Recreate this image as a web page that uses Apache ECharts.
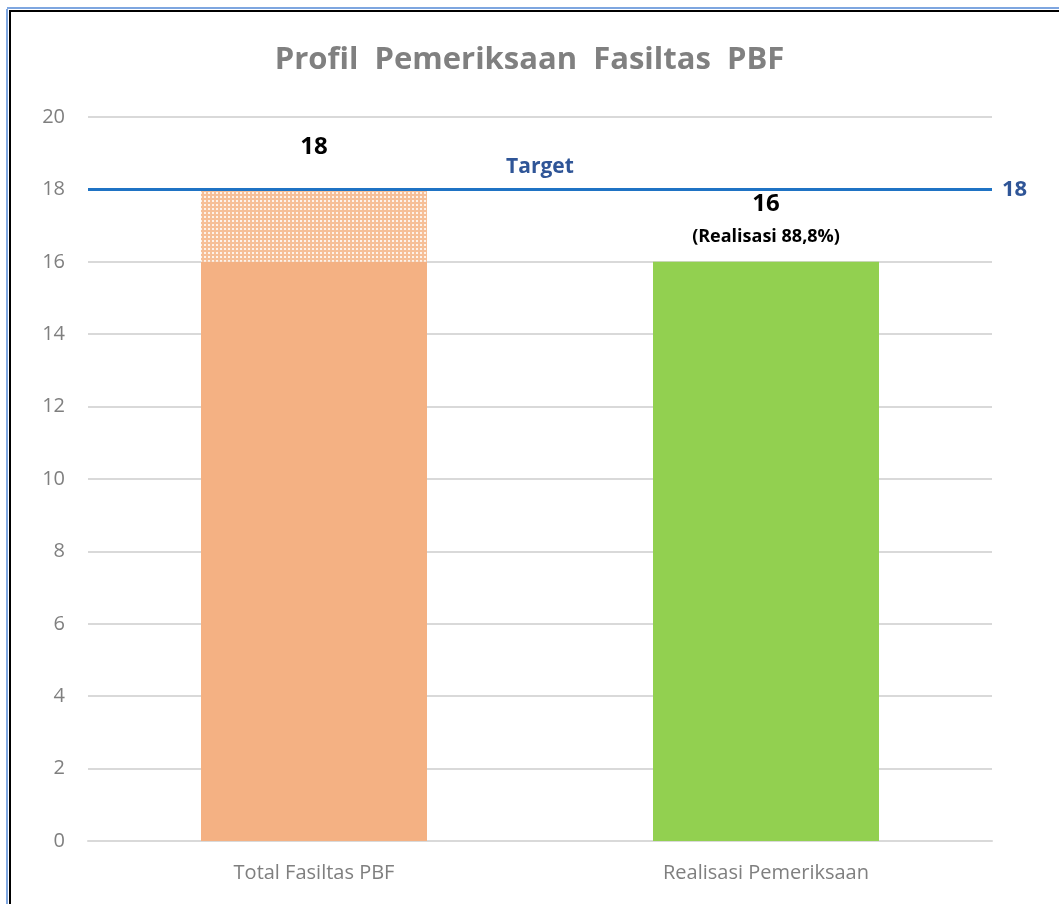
<!DOCTYPE html>
<html>
<head>
<meta charset="utf-8">
<script src="https://cdn.jsdelivr.net/npm/echarts@6/dist/echarts.min.js"></script>
<style>
  html, body { margin: 0; padding: 0; background: #fff; }
  #chart { width: 1059px; height: 904px; }
</style>
</head>
<body>
<div id="chart"></div>
<script>
// data
const categories = ['Total Fasiltas PBF', 'Realisasi Pemeriksaan']
const baseValues = [16, 16]
const extraValues = [2, 0]
const totalLabels = ['18', '16']
const realisasiText = '(Realisasi 88,8%)'
const targetValue = 18
const yTicks = [0, 2, 4, 6, 8, 10, 12, 14, 16, 18, 20]

const chart = echarts.init(document.getElementById('chart'))

const option = {
  animation: false,
  title: {
    text: 'Profil  Pemeriksaan  Fasiltas  PBF',
    left: 'center',
    top: 40,
    textStyle: {
      fontFamily: 'Open Sans',
      fontSize: 31,
      fontWeight: 'bold',
      color: '#808080'
    }
  },
  grid: { left: 88, right: 67, top: 117, bottom: 63 },
  xAxis: {
    type: 'category',
    data: categories,
    axisLine: { lineStyle: { color: '#d9d9d9', width: 2 } },
    axisTick: { show: false },
    axisLabel: {
      color: '#7f7f7f',
      fontSize: 20,
      fontFamily: 'Open Sans',
      margin: 22
    }
  },
  yAxis: {
    type: 'value',
    min: yTicks[0],
    max: yTicks[yTicks.length - 1],
    interval: 2,
    axisLine: { show: false },
    axisTick: { show: false },
    splitLine: { lineStyle: { color: '#d9d9d9', width: 2 } },
    axisLabel: {
      color: '#7f7f7f',
      fontSize: 20,
      fontFamily: 'Open Sans',
      margin: 23
    }
  },
  series: [
    {
      type: 'bar',
      stack: 'total',
      barWidth: '50%',
      data: baseValues.map((v, i) => {
        const item = {
          value: v,
          itemStyle: { color: i === 0 ? '#f4b183' : '#92d050' }
        }
        if (extraValues[i] === 0) {
          item.label = {
            show: true,
            position: 'top',
            distance: 9,
            formatter: '{a|' + totalLabels[i] + '}\n{b|' + realisasiText + '}',
            rich: {
              a: { fontSize: 24, fontWeight: 'bold', color: '#000', lineHeight: 34, fontFamily: 'Open Sans' },
              b: { fontSize: 18, fontWeight: 'bold', color: '#000', lineHeight: 32, fontFamily: 'Open Sans' }
            }
          }
        }
        return item
      }),
      markLine: {
        silent: true,
        symbol: 'none',
        lineStyle: { color: '#1f73c4', width: 3, type: 'solid' },
        data: [
          {
            yAxis: targetValue,
            label: {
              position: 'end',
              formatter: String(targetValue),
              color: '#2f5597',
              fontSize: 22,
              fontWeight: 'bold',
              fontFamily: 'Open Sans',
              distance: 10
            }
          },
          {
            yAxis: targetValue,
            label: {
              position: 'insideMiddleTop',
              formatter: 'Target',
              color: '#2f5597',
              fontSize: 21,
              fontWeight: 'bold',
              fontFamily: 'Open Sans',
              distance: 12
            }
          }
        ]
      }
    },
    {
      type: 'bar',
      stack: 'total',
      data: extraValues.map((v) => v === 0 ? '-' : v),
      itemStyle: {
        color: '#f6bf97',
        decal: {
          symbol: 'rect',
          symbolSize: 1,
          color: 'rgba(255,255,255,0.8)',
          dashArrayX: [[2, 2]],
          dashArrayY: [2, 2],
          rotation: 0
        }
      },
      label: {
        show: true,
        position: 'top',
        distance: 30,
        formatter: (p) => totalLabels[p.dataIndex],
        fontSize: 24,
        fontWeight: 'bold',
        color: '#000',
        fontFamily: 'Open Sans'
      }
    }
  ],
  graphic: [
    { type: 'line', shape: { x1: 7, y1: 9, x2: 7, y2: 904 }, style: { stroke: '#7ea6e0', lineWidth: 2 } },
    { type: 'line', shape: { x1: 7, y1: 8, x2: 1059, y2: 8 }, style: { stroke: '#7ea6e0', lineWidth: 2 } },
    { type: 'line', shape: { x1: 10, y1: 11, x2: 10, y2: 904 }, style: { stroke: '#000', lineWidth: 2 } },
    { type: 'line', shape: { x1: 9, y1: 11, x2: 1059, y2: 11 }, style: { stroke: '#000', lineWidth: 2 } }
  ]
}

chart.setOption(option)
</script>
</body>
</html>
